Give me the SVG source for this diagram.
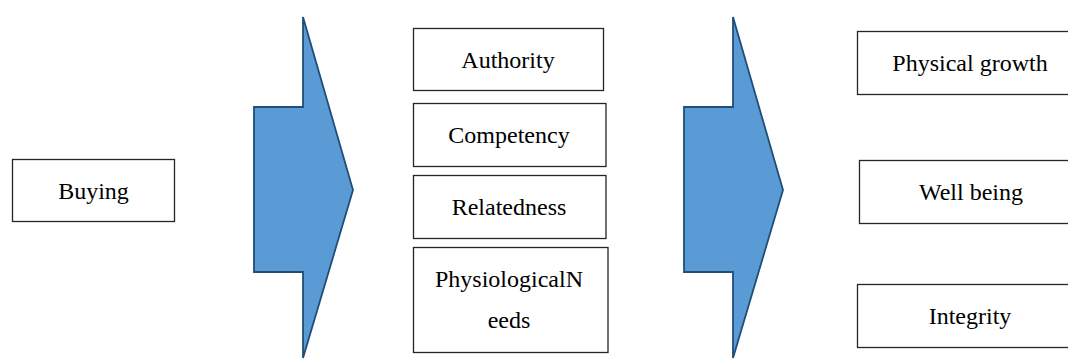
<svg xmlns="http://www.w3.org/2000/svg" width="1068" height="359" viewBox="0 0 1068 359">
<style>
.box{fill:#fff;stroke:#262626;stroke-width:1.3}
.arr{fill:#5B9BD5;stroke:#1F4E79;stroke-width:1.8;stroke-linejoin:miter}
text{font-family:"Liberation Serif","Times New Roman",serif;font-size:24px;fill:#000;text-anchor:middle}
</style>
<rect width="1068" height="359" fill="#fff"/>
<g id="connectors">
<polygon class="arr" points="303,17 353,190 303,358 303,272 254,272 254,107 303,107"/>
<polygon class="arr" points="733,17 783,190 733,358 733,272 684,272 684,107 733,107"/>
</g>
<g id="buying"><rect class="box" x="12.5" y="159.5" width="162" height="62"/><text x="93.5" y="199">Buying</text></g>
<g id="authority"><rect class="box" x="413.5" y="28.5" width="190" height="62"/><text x="508" y="68">Authority</text></g>
<g id="competency"><rect class="box" x="413.5" y="103.5" width="192.5" height="63"/><text x="509" y="143">Competency</text></g>
<g id="relatedness"><rect class="box" x="413.5" y="175.5" width="192.5" height="63"/><text x="509" y="215">Relatedness</text></g>
<g id="physiological"><rect class="box" x="413.5" y="247.5" width="194.5" height="105"/><text x="509" y="287">PhysiologicalN</text><text x="509" y="328">eeds</text></g>
<g id="physical-growth"><rect class="box" x="857.5" y="31.5" width="224" height="63"/><text x="970" y="71">Physical growth</text></g>
<g id="well-being"><rect class="box" x="859.5" y="160.5" width="224" height="63"/><text x="971" y="200">Well being</text></g>
<g id="integrity"><rect class="box" x="857.5" y="284.5" width="224" height="63"/><text x="970" y="324">Integrity</text></g>
</svg>
